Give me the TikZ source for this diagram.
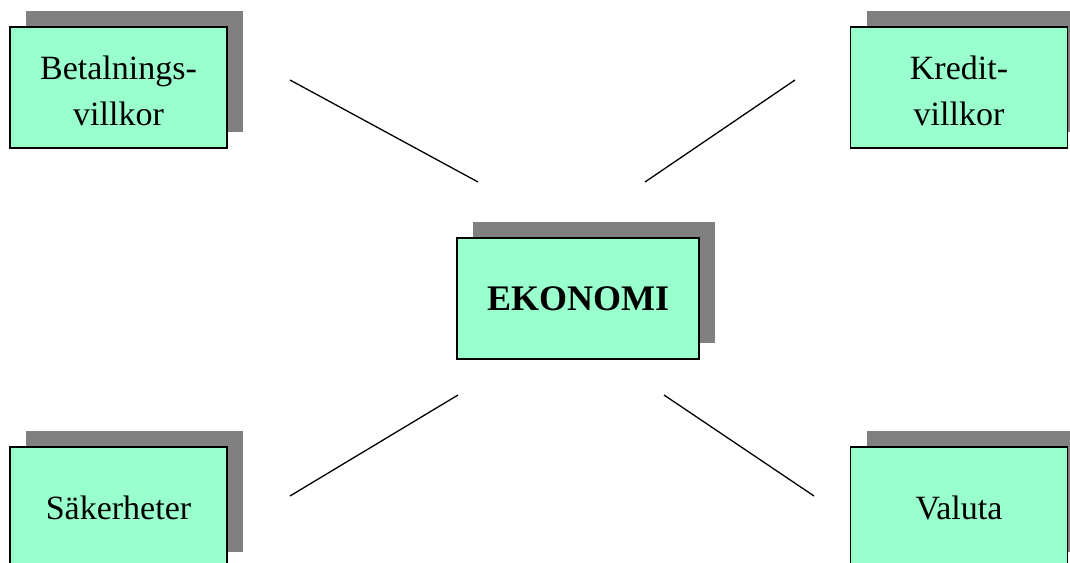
\documentclass[tikz,border=0pt]{standalone}
\usepackage{fontspec}
\setmainfont{Liberation Serif}
\usetikzlibrary{shadows}
\definecolor{boxgreen}{HTML}{99FFCC}
\definecolor{shadowgray}{HTML}{808080}
\begin{document}
\begin{tikzpicture}[x=1pt,y=1pt,
  topic/.style={draw=black, line width=1.6pt, fill=boxgreen, minimum width=217pt, minimum height=121pt,
    inner sep=0pt, align=center, font=\fontsize{34}{44}\selectfont,
    general shadow={shadow xshift=16pt, shadow yshift=16pt, fill=shadowgray, draw=none}},
  link/.style={draw=black, line width=1.3pt}]
\useasboundingbox (0,0) rectangle (1070,562);
\clip (0,0) rectangle (1070,562);
\fill[white] (0,0) rectangle (1070,562);
\node[topic] (bet) at (118.5,474.5) {\rule{0pt}{30pt}Betalnings-\\[2pt]villkor};
\node[topic] (kre) at (959,474.5) {\rule{0pt}{30pt}Kredit-\\[2pt]villkor};
\node[topic] (sak) at (118.5,54.5) {Säkerheter};
\node[topic] (val) at (959,54.5) {Valuta};
\node[topic, minimum width=242pt, font=\fontsize{36}{43}\selectfont\bfseries] (eko) at (578,263.5) {EKONOMI};
\coordinate (betend) at (290,482);
\coordinate (ekobet) at (478,380);
\coordinate (kreend) at (795,482);
\coordinate (ekokre) at (645,380);
\coordinate (sakend) at (290,66);
\coordinate (ekosak) at (458,167);
\coordinate (valend) at (814,66);
\coordinate (ekoval) at (664,167);
\draw[link] (betend) -- (ekobet);
\draw[link] (kreend) -- (ekokre);
\draw[link] (sakend) -- (ekosak);
\draw[link] (valend) -- (ekoval);
\end{tikzpicture}
\end{document}
